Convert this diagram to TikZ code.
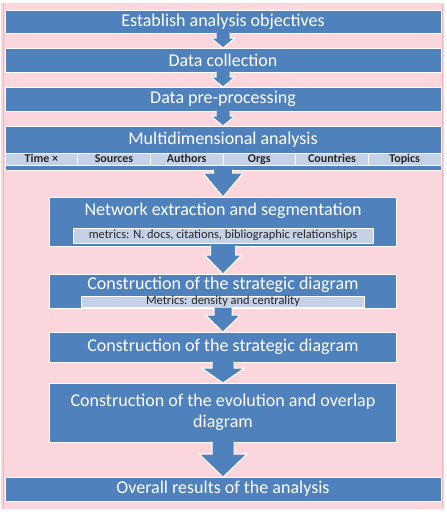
\documentclass[tikz,border=0pt]{standalone}
\usepackage{fontspec}
\setmainfont{Carlito}
\usepackage{tikz}
\usetikzlibrary{positioning, calc}
\definecolor{stepblue}{HTML}{4F81BD}
\definecolor{barblue}{HTML}{C5D1E6}
\definecolor{pinkbg}{HTML}{FCD6DD}
\definecolor{pinkedge}{HTML}{F4B3C0}
\newcommand{\blockarr}[5]{%
  \path[barrow] let \p1=(#1.south), \p2=(#2.north) in
    (\x1-#3pt,\y1+0.5pt) -- (\x1-#3pt,\y2+#5pt) -- (\x1-#4pt,\y2+#5pt) -- (\x2,\y2)
    -- (\x1+#4pt,\y2+#5pt) -- (\x1+#3pt,\y2+#5pt) -- (\x1+#3pt,\y1+0.5pt);}

\begin{document}
\begin{tikzpicture}[
  x=1pt, y=-1pt,
  node distance=15pt,
  box/.style={rectangle, draw=white, line width=1pt, fill=stepblue, text=white, inner sep=0pt, outer sep=0pt, align=center, font=\fontsize{18}{20.5}\selectfont},
  wide/.style={box, minimum width=436pt},
  narrow/.style={box, minimum width=347pt},
  title/.style={inner sep=0pt, outer sep=0pt, text=white, text height=12.5pt, text depth=3.5pt, font=\fontsize{18}{20.5}\selectfont},
  bar/.style={rectangle, draw=white, line width=0.6pt, fill=barblue, inner sep=0pt, outer sep=0pt, text=black!85, text height=7.5pt, text depth=1.5pt, font=\fontsize{12.4}{14}\selectfont},
  cell/.style={bar, minimum width=72.67pt, minimum height=12pt, font=\bfseries\fontsize{12}{14}\selectfont},
  barrow/.style={draw=white, line width=1pt, fill=stepblue, line join=miter}
]
\useasboundingbox (0,0) rectangle (447,514);
\fill[pinkbg] (1,3) rectangle (444,509);
\draw[pinkedge, line width=1pt] (3.5,3) -- (3.5,509) (442.5,3) -- (442.5,509);

\node[wide, minimum height=23pt] (obj) at (223,21.5) {Establish analysis objectives};
\node[wide, minimum height=24pt, below=of obj] (coll) {Data collection};
\node[wide, minimum height=24pt, below=of coll] (prep) {Data pre-processing};
\node[wide, minimum height=44pt, below=of prep] (multi) {};
\node[narrow, minimum height=49pt, below=27pt of multi] (net) {};
\node[narrow, minimum height=34pt, below=28pt of net] (strat) {};
\node[narrow, minimum height=30pt, below=24pt of strat] (diag) {Construction of the strategic diagram};
\node[narrow, minimum height=59pt, below=21pt of diag] (evol) {Construction of the evolution and overlap\\diagram};
\node[wide, minimum height=24pt, below=35pt of evol] (res) {Overall results of the analysis};

\node[title, below=5.5pt of multi.north] (multiT) {Multidimensional analysis};
\node[cell, below right=27pt and 0pt of multi.north west] (d1) {Time ×};
\node[cell, right=0pt of d1] (d2) {Sources};
\node[cell, right=0pt of d2] (d3) {Authors};
\node[cell, right=0pt of d3] (d4) {Orgs};
\node[cell, right=0pt of d4] (d5) {Countries};
\node[cell, right=0pt of d5] (d6) {Topics};

\node[title, below=6pt of net.north] (netT) {Network extraction and segmentation};
\node[bar, minimum width=300pt, minimum height=15pt, above=3pt of net.south] (netM) {metrics: N. docs, citations, bibliographic relationships};
\node[title, below=3pt of strat.north] (stratT) {Construction of the strategic diagram};
\node[bar, minimum width=283pt, minimum height=11pt, above=1pt of strat.south] (stratM) {Metrics: density and centrality};

\blockarr{obj}{coll}{7}{12}{10}
\blockarr{coll}{prep}{7}{12}{10}
\blockarr{prep}{multi}{7}{12}{10}
\blockarr{multi}{net}{9.5}{20}{24}
\blockarr{net}{strat}{12.5}{18.5}{19}
\blockarr{strat}{diag}{9}{17.5}{17}
\blockarr{diag}{evol}{11}{21.5}{15}
\blockarr{evol}{res}{11}{24}{23}
\end{tikzpicture}
\end{document}
